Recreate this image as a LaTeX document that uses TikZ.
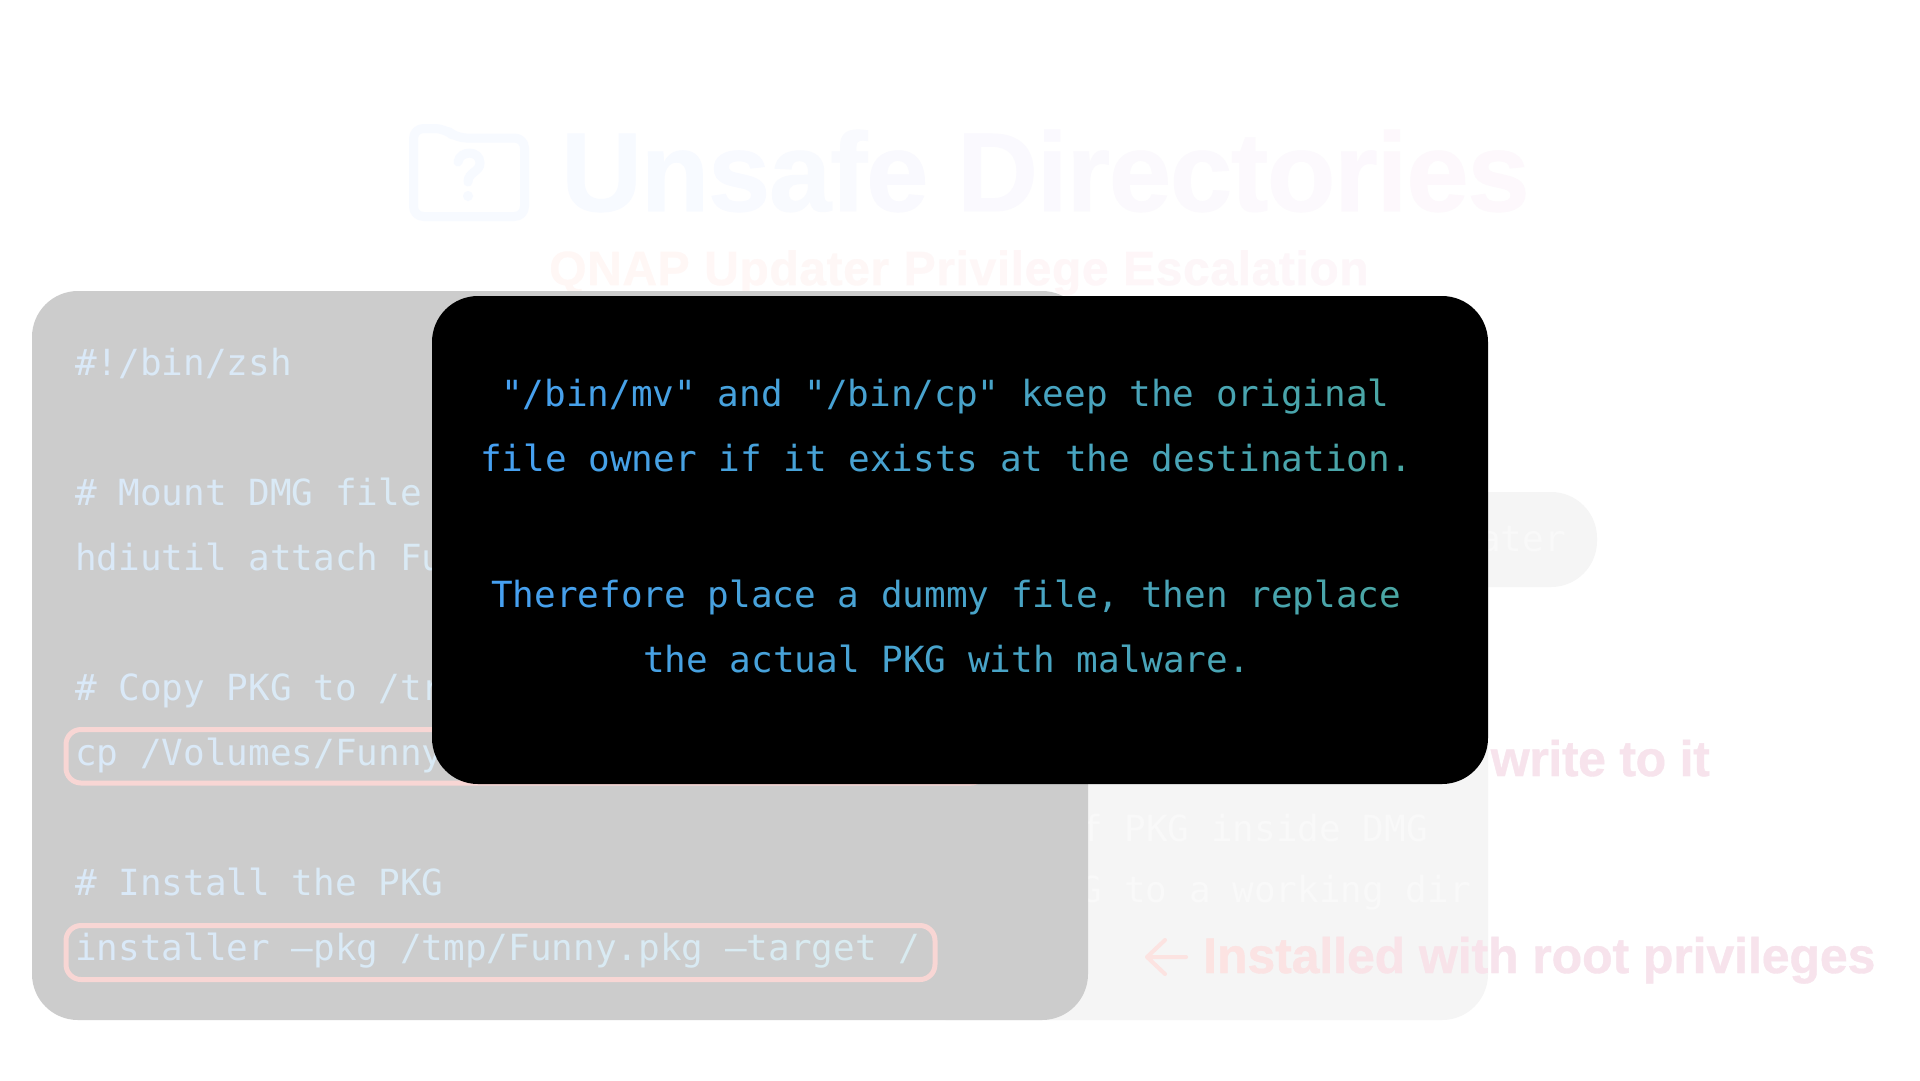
\documentclass[tikz,border=0pt]{standalone}
\usepackage{fontspec}
\setmainfont{Liberation Sans}
\newfontfamily\monof{DejaVu Sans Mono}
\newfontfamily\titlef[FakeBold=0.8]{Liberation Sans Bold}
\newfontfamily\subf[FakeBold=0.6]{Liberation Sans Bold}
\newfontfamily\notef[FakeBold=0.8]{Liberation Sans Bold}
\newfontfamily\writef[LetterSpace=-0.8,FakeBold=0.8]{Liberation Sans Bold}
\definecolor{codeA}{HTML}{DAE9F8}
\definecolor{codeB}{HTML}{D8ECEC}
\definecolor{boxA}{HTML}{46A0F2}
\definecolor{boxB}{HTML}{4AA6A2}
\definecolor{titA}{HTML}{F7FAFF}
\definecolor{titB}{HTML}{FEF8FC}
\definecolor{subA}{HTML}{FFF7F5}
\definecolor{subB}{HTML}{FDF6F9}
\definecolor{noteA}{HTML}{FCE3E1}
\definecolor{noteB}{HTML}{F7E3EC}
\definecolor{panelGrey}{HTML}{F5F5F5}
\definecolor{paleText}{HTML}{F9F9F9}
\definecolor{codeGrey}{HTML}{CCCCCC}
\definecolor{hiliteRed}{HTML}{F8D6D4}
\newdimen\gradkern
\gradkern=0pt
\ExplSyntaxOn
\fp_new:N \l_grad_pos_fp
% colour A, colour B, gradient start x, gradient end x, text start x, step, string
\NewDocumentCommand{\gradtext}{mmmmmmm}{
  \fp_set:Nn \l_grad_pos_fp {#5}
  \str_map_inline:nn {#7}{
    \group_begin:
    \color{#1!\fp_eval:n{round(100*max(0,min(1,1-(\l_grad_pos_fp-(#3))/((#4)-(#3)))))}!#2}
    \scan_stop: ##1
    \group_end:
    \kern\gradkern
    \fp_add:Nn \l_grad_pos_fp {#6}
  }
}
\ExplSyntaxOff
\newcommand{\boxtext}[2]{\gradtext{boxA}{boxB}{483}{1406}{#1}{21.67}{#2}}
\newcommand{\codetext}[2]{\gradtext{codeA}{codeB}{77}{1400}{#1}{21.67}{#2}}
\tikzset{
  monotext/.style={anchor=base west,inner sep=0pt,outer sep=0pt,font=\monof\fontsize{36}{36}\selectfont},
  panel/.style={fill=#1,draw=none,rounded corners=46pt},
  hilite/.style={draw=hiliteRed,line width=5pt,rounded corners=15pt,fill=none},
}
\begin{document}
\begin{tikzpicture}[x=1pt,y=-1pt]
\useasboundingbox (0,0) rectangle (1920,1080);
\fill[white] (0,0) rectangle (1920,1080);

% folder icon
\draw[draw=titA,line width=9pt,rounded corners=10pt,line join=round]
  (413.5,216.5) -- (413.5,128.5) -- (445,128.5) -- (456,138) -- (524.5,138) -- (524.5,216.5) -- cycle;
\draw[draw=titA,line width=9pt,line cap=round]
  (458,162) .. controls (460,150) and (480,150) .. (480,163)
  .. controls (480,172) and (468,172) .. (468,182);
\fill[titA] (468,196) circle (5);

% title and subtitle
\node[anchor=base west,inner sep=0pt] (title) at (561,211)
  {\gradkern=-1.25pt\titlef\fontsize{112}{112}\selectfont\gradtext{titA}{titB}{567}{1522}{567}{53}{Unsafe Directories}};
\node[anchor=base west,inner sep=0pt] (subtitle) at (549,285)
  {\gradkern=0.6pt\subf\fontsize{48}{48}\selectfont\gradtext{subA}{subB}{551}{1369}{551}{25}{QNAP Updater Privilege Escalation}};

% pale pill and its text
\fill[panel=panelGrey] (1300,492) rectangle (1597,587);
\node[monotext,anchor=base east,text=paleText] (pill) at (1566,551) {ater};

% pink notes
\node[anchor=base east,inner sep=0pt,text=noteB] (write) at (1710,776)
  {\writef\fontsize{50}{50}\selectfont write to it};

% pale back panel
\fill[panel=panelGrey] (900,500) rectangle (1488,1020);
\node[monotext,anchor=base east,text=paleText] (pa) at (1428,841) {f PKG inside DMG};
\node[monotext,anchor=base east,text=paleText] (pb) at (1471,902) {G to a working dir};

\node[anchor=base west,inner sep=0pt] (inst) at (1203,973)
  {\gradkern=-0.1pt\notef\fontsize{50}{50}\selectfont\gradtext{noteA}{noteB}{1203}{1500}{1203}{22.2}{Installed with root privileges}};
\coordinate (arrowTail) at (1186,957);
\coordinate (arrowHead) at (1147,957);
\coordinate (arrowUp) at (1165,940);
\coordinate (arrowDown) at (1165,974);
\draw[noteA,line width=4pt,line cap=round,line join=round]
  (arrowTail) -- (arrowHead) (arrowUp) -- (arrowHead) -- (arrowDown);

% grey code panel
\fill[panel=codeGrey] (32,291) rectangle (1088,1020);
\draw[hilite] (66,729.5) rectangle (986,783);
\draw[hilite] (66,925.5) rectangle (935,979.5);

\node[monotext] (c1) at (75,375) {\color{codeA}\#\codetext{98}{!/bin/zsh}};
\node[monotext] (c2) at (75,505) {\color{codeA}\#\codetext{98}{ Mount DMG file}};
\node[monotext] (c3) at (75,570) {\codetext{76}{hdiutil attach Fu}};
\node[monotext] (c4) at (75,700) {\color{codeA}\#\codetext{98}{ Copy PKG to /tr}};
\node[monotext] (c5) at (75,765) {\codetext{76}{cp /Volumes/Funny}};
\node[monotext] (c6) at (75,895) {\color{codeA}\#\codetext{98}{ Install the PKG}};
\node[monotext] (c7) at (75,960) {\codetext{76}{installer –pkg /tmp/Funny.pkg –target /}};

% black box
\fill[panel=black] (432,296) rectangle (1488,784);
\node[monotext] (b1) at (501,406) {\boxtext{503}{"/bin/mv" and "/bin/cp" keep the original}};
\node[monotext] (b2) at (480,471) {\boxtext{481}{file owner if it exists at the destination.}};
\node[monotext] (b3) at (491,607) {\boxtext{492}{Therefore place a dummy file, then replace}};
\node[monotext] (b4) at (643,672) {\boxtext{644}{the actual PKG with malware.}};
\end{tikzpicture}
\end{document}
